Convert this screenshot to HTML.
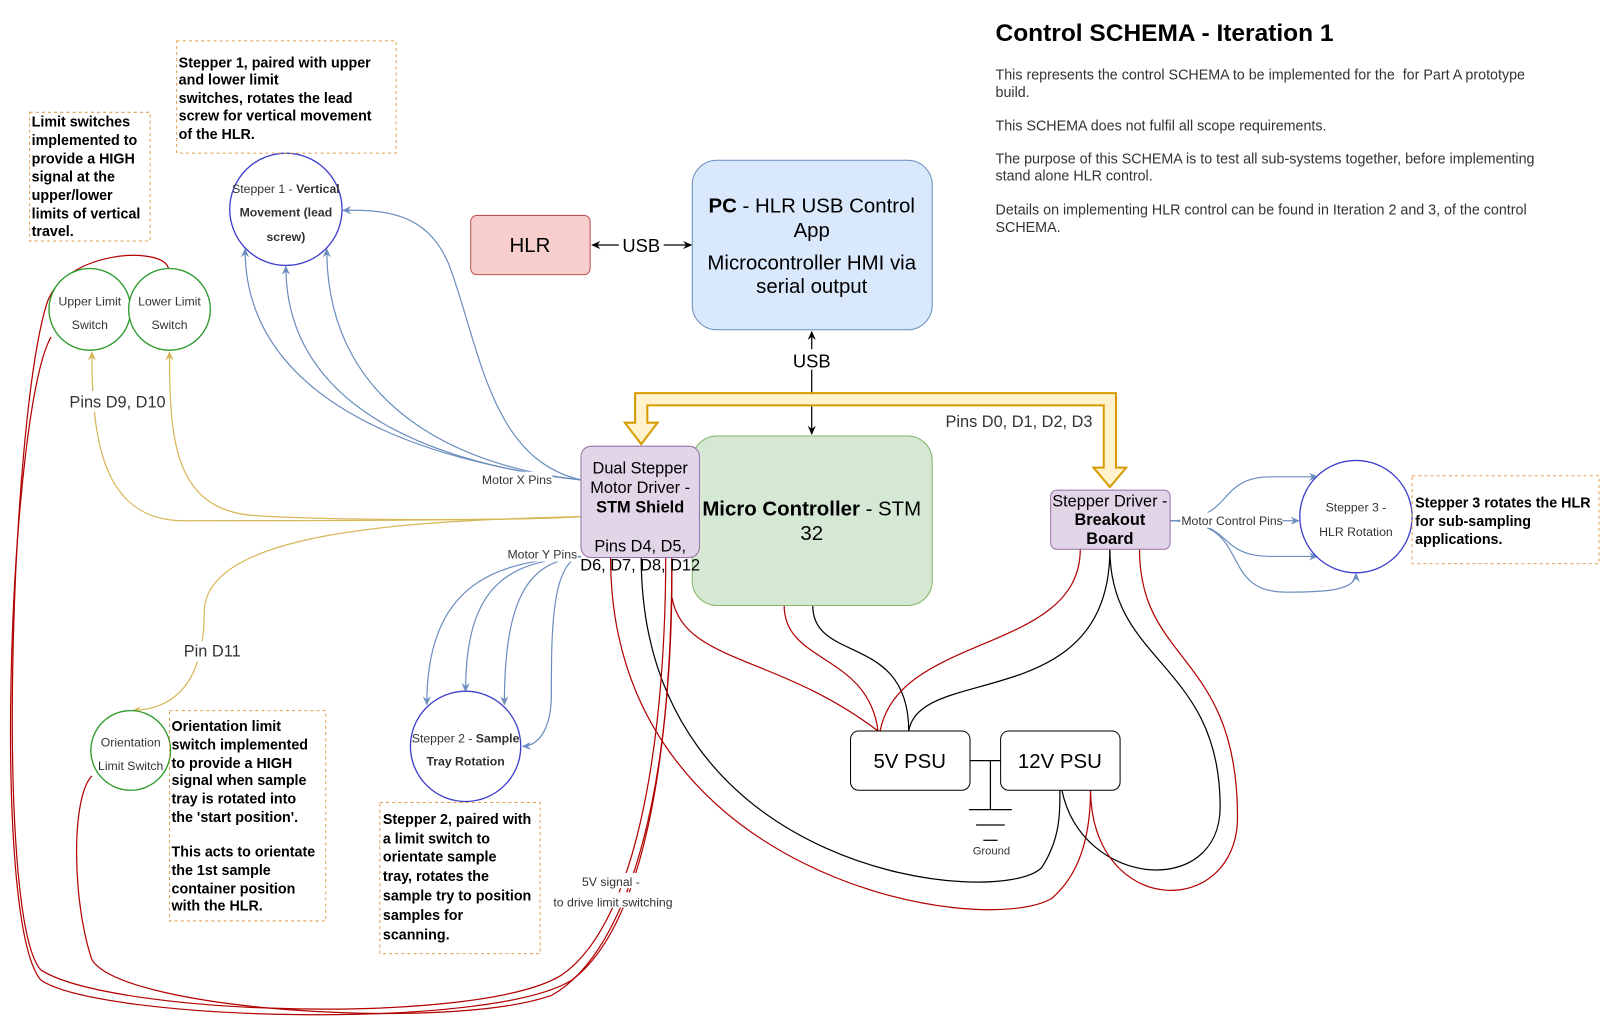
<!DOCTYPE html>
<html><head><meta charset="utf-8"><style>
html,body{margin:0;padding:0;background:#fff;}
svg{display:block;font-family:"Liberation Sans",Arial,sans-serif;}
</style></head><body>
<svg width="1601" height="1021" viewBox="0 0 1568 1000" preserveAspectRatio="none" xmlns="http://www.w3.org/2000/svg">
<defs>
<marker id="ab" markerWidth="10" markerHeight="10" refX="8" refY="5" orient="auto" markerUnits="userSpaceOnUse"><path d="M0,1 L9,5 L0,9 L3,5 Z" fill="#6c8ebf"/></marker>
<marker id="ay" markerWidth="10" markerHeight="10" refX="8" refY="5" orient="auto" markerUnits="userSpaceOnUse"><path d="M0,1 L9,5 L0,9 L3,5 Z" fill="#d6b656"/></marker>
<marker id="ak" markerWidth="10" markerHeight="10" refX="8" refY="5" orient="auto" markerUnits="userSpaceOnUse"><path d="M0,1 L9,5 L0,9 L3,5 Z" fill="#000"/></marker>
</defs>

<text x="975" y="40" font-size="24" font-weight="bold" fill="#000">Control SCHEMA - Iteration 1</text>
<g font-size="14" fill="#333">
<text x="975" y="78">This represents the control SCHEMA to be implemented for the &#160;for Part A prototype</text>
<text x="975" y="95">build.</text>
<text x="975" y="128">This SCHEMA does not fulfil all scope requirements.</text>
<text x="975" y="160">The purpose of this SCHEMA is to test all sub-systems together, before implementing</text>
<text x="975" y="177">stand alone HLR control.</text>
<text x="975" y="210">Details on implementing HLR control can be found in Iteration 2 and 3, of the control</text>
<text x="975" y="227">SCHEMA.</text>
</g>

<g fill="none" stroke-width="1.2">
<path d="M598,546 C598,860 960,920 1030,880 C1065,850 1068,800 1068,774" stroke="#b20000"/>
<path d="M628,546 C628,860 980,890 1020,850 C1040,820 1038,790 1038,774" stroke="#000"/>
<path d="M658,585 C670,650 760,640 860,716" stroke="#b20000"/>
<path d="M768,593 C768,650 850,640 860,716" stroke="#b20000"/>
<path d="M796,593 C796,650 890,620 890,716" stroke="#000"/>
<path d="M1058,538 C1058,640 880,620 862,716" stroke="#b20000"/>
<path d="M1087,538 C1087,700 900,650 890,716" stroke="#000"/>
<path d="M1087,538 C1087,650 1195,650 1195,790 C1195,880 1060,870 1040,774" stroke="#000"/>
<path d="M1116,538 C1116,650 1212,640 1212,800 C1212,900 1070,900 1068,774" stroke="#b20000"/>
<path d="M658,546 C658,700 640,900 560,960 C480,1010 100,1000 40,960 C-10,900 10,400 50,330" stroke="#b20000"/>
<path d="M165,263 C160,240 60,245 45,300 C10,420 -5,900 40,950 C110,995 470,1005 550,955 C630,900 652,700 652,546" stroke="#b20000"/>
<path d="M658,546 C660,760 620,930 540,975 C440,1010 120,990 90,940 C70,880 70,780 90,760" stroke="#b20000"/>
</g>

<g fill="none" stroke="#6c8ebf" stroke-width="1.2">
<path d="M569,470 C480,460 240,420 240,244" marker-end="url(#ab)"/>
<path d="M569,470 C470,460 280,420 280,261" marker-end="url(#ab)"/>
<path d="M569,470 C470,460 320,410 320,244" marker-end="url(#ab)"/>
<path d="M569,470 C480,450 470,340 440,260 C420,210 380,205 336,206" marker-end="url(#ab)"/>
<path d="M569,545 C500,550 418,560 418,690" marker-end="url(#ab)"/>
<path d="M569,545 C500,550 456,570 456,677" marker-end="url(#ab)"/>
<path d="M569,545 C520,550 494,580 494,690" marker-end="url(#ab)"/>
<path d="M569,545 C540,550 540,620 540,680 C540,710 530,730 512,731" marker-end="url(#ab)"/>
<path d="M1146,510 L1272,510" marker-end="url(#ab)"/>
<path d="M1146,510 C1210,510 1190,467 1245,467 L1290,467" marker-end="url(#ab)"/>
<path d="M1146,510 C1210,510 1190,545 1245,545 L1290,545" marker-end="url(#ab)"/>
<path d="M1146,510 C1230,510 1190,580 1260,580 C1300,580 1328,578 1328,562" marker-end="url(#ab)"/>
</g>

<g fill="none" stroke="#d6b656" stroke-width="1.2">
<path d="M569,506 C500,510 300,510 180,510 C100,510 90,430 90,345" marker-end="url(#ay)"/>
<path d="M569,506 C500,510 330,510 250,505 C170,500 166,430 166,345" marker-end="url(#ay)"/>
<path d="M569,506 C400,510 200,520 200,600 C200,680 160,695 130,696" marker-end="url(#ay)"/>
</g>

<g font-size="12" fill="#333">
<rect x="471" y="462" width="70" height="15" fill="#fff"/>
<text x="472" y="474">Motor X Pins</text>
<rect x="496" y="535" width="70" height="15" fill="#fff"/>
<text x="497" y="547">Motor Y Pins</text>
<rect x="1156" y="502" width="100" height="15" fill="#fff"/>
<text x="1157" y="514">Motor Control Pins</text>
<rect x="560" y="855" width="80" height="15" fill="#fff"/>
<text x="570" y="868">5V signal -</text>
<rect x="540" y="874" width="120" height="15" fill="#fff"/>
<text x="542" y="888">to drive limit switching</text>
</g>
<g font-size="16" fill="#333">
<rect x="66" y="383" width="96" height="20" fill="#fff"/>
<text x="68" y="399">Pins D9, D10</text>
<rect x="178" y="628" width="58" height="20" fill="#fff"/>
<text x="180" y="643">Pin D11</text>
<text x="926" y="418">Pins D0, D1, D2, D3</text>
</g>

<g stroke="#000" stroke-width="1.2" fill="none">
<path d="M606,240 L580,240" marker-end="url(#ak)"/>
<path d="M650,240 L677,240" marker-end="url(#ak)"/>
<path d="M795,385 L795,325" marker-end="url(#ak)"/>
<path d="M795,398 L795,425" marker-end="url(#ak)"/>
</g>
<rect x="607" y="230" width="42" height="20" fill="#fff"/>
<text x="628" y="247" font-size="18" fill="#000" text-anchor="middle">USB</text>
<rect x="774" y="342" width="42" height="20" fill="#fff"/>
<text x="795" y="360" font-size="18" fill="#000" text-anchor="middle">USB</text>

<path d="M622,414 L622,385 L1093,385 L1093,458 L1103,458 L1087,477 L1071,458 L1081,458 L1081,397 L634,397 L634,414 L644,414 L628,435 L612,414 Z" fill="#fff2cc" stroke="#d79b00" stroke-width="2"/>

<rect x="461" y="211" width="117" height="58" rx="6" fill="#f8cecc" stroke="#b85450"/>
<text x="519" y="247" font-size="20" text-anchor="middle" fill="#000">HLR</text>

<rect x="678" y="157" width="235" height="166" rx="24" fill="#dae8fc" stroke="#6c8ebf"/>
<g font-size="20" fill="#000" text-anchor="middle">
<text x="795" y="208"><tspan font-weight="bold">PC</tspan> - HLR USB Control</text>
<text x="795" y="232">App</text>
<text x="795" y="264">Microcontroller HMI via</text>
<text x="795" y="287">serial output</text>
</g>

<rect x="678" y="427" width="235" height="166" rx="24" fill="#d5e8d4" stroke="#82b366"/>
<g font-size="20" fill="#000" text-anchor="middle">
<text x="795" y="505"><tspan font-weight="bold">Micro Controller</tspan> - STM</text>
<text x="795" y="529">32</text>
</g>

<rect x="569" y="437" width="116" height="109" rx="10" fill="#e1d5e7" stroke="#9673a6"/>
<g font-size="16" fill="#000" text-anchor="middle">
<text x="627" y="464">Dual Stepper</text>
<text x="627" y="483">Motor Driver -</text>
<text x="627" y="502" font-weight="bold">STM Shield</text>
<text x="627" y="540">Pins D4, D5,</text>
<text x="627" y="559">D6, D7, D8, D12</text>
</g>

<rect x="1029" y="480" width="117" height="58" rx="6" fill="#e1d5e7" stroke="#9673a6"/>
<g font-size="16" fill="#000" text-anchor="middle">
<text x="1087" y="496">Stepper Driver -</text>
<text x="1087" y="514" font-weight="bold">Breakout</text>
<text x="1087" y="533" font-weight="bold">Board</text>
</g>

<rect x="833" y="716" width="117" height="58" rx="8" fill="#fff" stroke="#000"/>
<text x="891" y="752" font-size="20" text-anchor="middle">5V PSU</text>
<rect x="980" y="716" width="117" height="58" rx="8" fill="#fff" stroke="#000"/>
<text x="1038" y="752" font-size="20" text-anchor="middle">12V PSU</text>

<g stroke="#000" stroke-width="1.2">
<line x1="950" y1="745" x2="980" y2="745"/>
<line x1="970" y1="745" x2="970" y2="793"/>
<line x1="949" y1="793" x2="991" y2="793"/>
<line x1="956" y1="808" x2="984" y2="808"/>
<line x1="963" y1="823" x2="977" y2="823"/>
</g>
<text x="971" y="837" font-size="11" text-anchor="middle" fill="#333">Ground</text>

<circle cx="280" cy="205" r="55" fill="#fff" stroke="#3f3fcc" stroke-width="1.3"/>
<g font-size="12" fill="#333" text-anchor="middle">
<text x="280" y="189">Stepper 1 - <tspan font-weight="bold">Vertical</tspan></text>
<text x="280" y="212" font-weight="bold">Movement (lead</text>
<text x="280" y="236" font-weight="bold">screw)</text>
</g>
<circle cx="88" cy="303" r="40" fill="#fff" stroke="#2a9a2a" stroke-width="1.3"/>
<circle cx="166" cy="303" r="40" fill="#fff" stroke="#2a9a2a" stroke-width="1.3"/>
<g font-size="12" fill="#333" text-anchor="middle">
<text x="88" y="299">Upper Limit</text>
<text x="88" y="322">Switch</text>
<text x="166" y="299">Lower Limit</text>
<text x="166" y="322">Switch</text>
</g>
<circle cx="128" cy="735" r="39" fill="#fff" stroke="#2a9a2a" stroke-width="1.3"/>
<g font-size="12" fill="#333" text-anchor="middle">
<text x="128" y="731">Orientation</text>
<text x="128" y="754">Limit Switch</text>
</g>
<circle cx="456" cy="731" r="54" fill="#fff" stroke="#3f3fcc" stroke-width="1.3"/>
<g font-size="12" fill="#333" text-anchor="middle">
<text x="456" y="727">Stepper 2 - <tspan font-weight="bold">Sample</tspan></text>
<text x="456" y="750" font-weight="bold">Tray Rotation</text>
</g>
<circle cx="1328" cy="506" r="55" fill="#fff" stroke="#3f3fcc" stroke-width="1.3"/>
<g font-size="12" fill="#333" text-anchor="middle">
<text x="1328" y="501">Stepper 3 -</text>
<text x="1328" y="525">HLR Rotation</text>
</g>

<g fill="none" stroke="#e0a050" stroke-dasharray="3,3" stroke-width="1">
<rect x="29" y="110" width="118" height="126"/>
<rect x="173" y="40" width="215" height="110"/>
<rect x="166" y="696" width="153" height="206"/>
<rect x="372" y="786" width="157" height="148"/>
<rect x="1383" y="466" width="183" height="86"/>
</g>
<g font-size="14" font-weight="bold" fill="#000">
<text x="31" y="124">Limit switches</text>
<text x="31" y="142">implemented to</text>
<text x="31" y="160">provide a HIGH</text>
<text x="31" y="178">signal at the</text>
<text x="31" y="196">upper/lower</text>
<text x="31" y="214">limits of vertical</text>
<text x="31" y="231">travel.</text>

<text x="175" y="66">Stepper 1, paired with upper</text>
<text x="175" y="83">and lower limit</text>
<text x="175" y="101">switches, rotates the lead</text>
<text x="175" y="118">screw for vertical movement</text>
<text x="175" y="136">of the HLR.</text>

<text x="168" y="716">Orientation limit</text>
<text x="168" y="734">switch implemented</text>
<text x="168" y="752">to provide a HIGH</text>
<text x="168" y="769">signal when sample</text>
<text x="168" y="787">tray is rotated into</text>
<text x="168" y="805">the 'start position'.</text>
<text x="168" y="839">This acts to orientate</text>
<text x="168" y="857">the 1st sample</text>
<text x="168" y="875">container position</text>
<text x="168" y="892">with the HLR.</text>

<text x="375" y="807">Stepper 2, paired with</text>
<text x="375" y="826">a limit switch to</text>
<text x="375" y="844">orientate sample</text>
<text x="375" y="863">tray, rotates the</text>
<text x="375" y="882">sample try to position</text>
<text x="375" y="901">samples for</text>
<text x="375" y="920">scanning.</text>

<text x="1386" y="497">Stepper 3 rotates the HLR</text>
<text x="1386" y="515">for sub-sampling</text>
<text x="1386" y="533">applications.</text>
</g>
</svg>
</body></html>
